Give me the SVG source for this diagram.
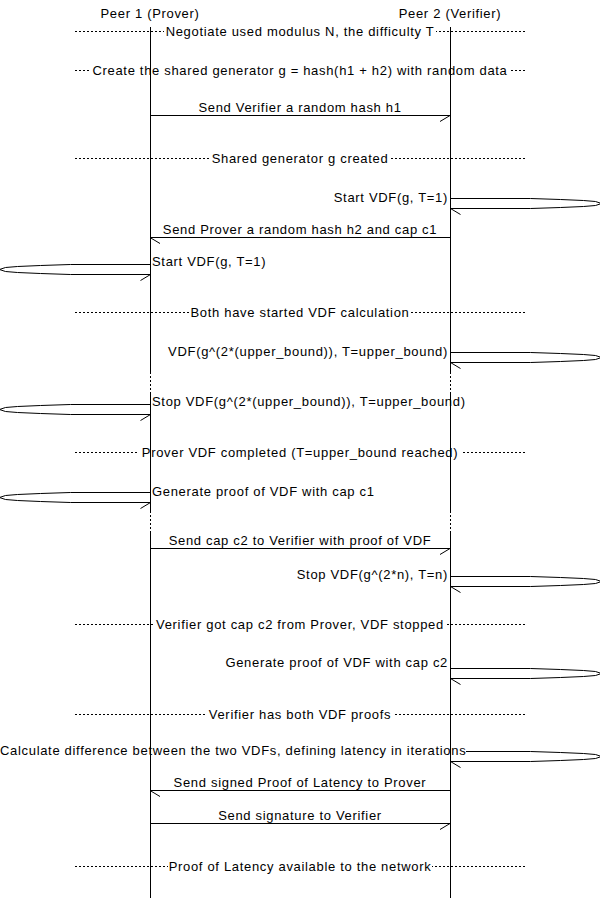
<svg xmlns="http://www.w3.org/2000/svg" width="600" height="898" viewBox="0 0 600 898">
<style>
text{font-family:"Liberation Sans",Arial,sans-serif;font-size:13px;letter-spacing:0.68px;fill:#000}
.c{text-anchor:middle}
.e{text-anchor:end}
.ln{stroke:#000;stroke-width:1;fill:none}
.dot{stroke:#000;stroke-width:1;stroke-dasharray:2 2;fill:none}
.bg{fill:#fff}
</style>
<defs>
  <path id="selfR" class="ln" d="M0,0H80L110,1L133,2L145,3L151,5L145,7L133,8L110,9L80,10H0M0,10L10,16"/>
</defs>
<rect width="600" height="898" fill="#fff"/>
<g id="connectors">
  <!-- dividers -->
  <line class="dot" x1="75" y1="31.5" x2="525" y2="31.5"/>
  <line class="dot" x1="75" y1="70.5" x2="525" y2="70.5"/>
  <line class="dot" x1="75" y1="158.5" x2="525" y2="158.5"/>
  <line class="dot" x1="75" y1="312.5" x2="525" y2="312.5"/>
  <line class="dot" x1="75" y1="452.5" x2="525" y2="452.5"/>
  <line class="dot" x1="75" y1="624.5" x2="525" y2="624.5"/>
  <line class="dot" x1="75" y1="714.5" x2="525" y2="714.5"/>
  <line class="dot" x1="75" y1="866.5" x2="525" y2="866.5"/>
  <!-- messages -->
  <path class="ln" d="M150,115.5H450.5M450,115.5L440,121.5"/>
  <path class="ln" d="M450,237.5H150M150,237.5L160,243.5"/>
  <path class="ln" d="M150,548.5H450.5M450,548.5L440,554.5"/>
  <path class="ln" d="M450,790.5H150M150,790.5L160,796.5"/>
  <path class="ln" d="M150,823.5H450.5M450,823.5L440,829.5"/>
  <!-- self arrows -->
  <use href="#selfR" transform="translate(450.5,198.5)"/>
  <use href="#selfR" transform="translate(150.5,264.5) scale(-1,1)"/>
  <use href="#selfR" transform="translate(450.5,352.5)"/>
  <use href="#selfR" transform="translate(150.5,404.5) scale(-1,1)"/>
  <use href="#selfR" transform="translate(150.5,492.5) scale(-1,1)"/>
  <use href="#selfR" transform="translate(450.5,576.5)"/>
  <use href="#selfR" transform="translate(450.5,668.5)"/>
  <use href="#selfR" transform="translate(450.5,751.5)"/>
</g>
<g id="labels">
  <rect class="bg" x="164" y="24" width="272" height="15"/>
  <rect class="bg" x="91" y="63" width="418" height="15"/>
  <rect class="bg" x="211" y="151" width="178" height="15"/>
  <rect class="bg" x="189" y="305" width="222" height="15"/>
  <rect class="bg" x="139" y="445" width="322" height="15"/>
  <rect class="bg" x="155" y="617" width="292" height="15"/>
  <rect class="bg" x="207" y="707" width="186" height="15"/>
  <rect class="bg" x="168" y="859" width="264" height="15"/>
  <rect class="bg" x="0" y="743" width="466" height="15"/>
</g>
<g id="dividers">
  <text class="c" x="300" y="36">Negotiate used modulus N, the difficulty T</text>
  <text class="c" x="300" y="75">Create the shared generator g = hash(h1 + h2) with random data</text>
  <text class="c" x="300" y="163">Shared generator g created</text>
  <text class="c" x="300" y="317">Both have started VDF calculation</text>
  <text class="c" x="300" y="457">Prover VDF completed (T=upper_bound reached)</text>
  <text class="c" x="300" y="629">Verifier got cap c2 from Prover, VDF stopped</text>
  <text class="c" x="300" y="719">Verifier has both VDF proofs</text>
  <text class="c" x="300" y="871">Proof of Latency available to the network</text>
</g>
<g id="messages">
  <text class="c" x="300" y="112">Send Verifier a random hash h1</text>
  <text class="c" x="300" y="234">Send Prover a random hash h2 and cap c1</text>
  <text class="c" x="300" y="545">Send cap c2 to Verifier with proof of VDF</text>
  <text class="c" x="300" y="787">Send signed Proof of Latency to Prover</text>
  <text class="c" x="300" y="820">Send signature to Verifier</text>
</g>
<g id="self-messages">
  <text class="e" x="448" y="202">Start VDF(g, T=1)</text>
  <text x="152" y="266">Start VDF(g, T=1)</text>
  <text class="e" x="448" y="356">VDF(g^(2*(upper_bound)), T=upper_bound)</text>
  <text x="152" y="406">Stop VDF(g^(2*(upper_bound)), T=upper_bound)</text>
  <text x="152" y="496">Generate proof of VDF with cap c1</text>
  <text class="e" x="448" y="579">Stop VDF(g^(2*n), T=n)</text>
  <text class="e" x="448" y="667">Generate proof of VDF with cap c2</text>
  <text x="0" y="755">Calculate difference between the two VDFs, defining latency in iterations</text>
</g>
<g id="prover">
  <text class="c" x="150" y="18">Peer 1 (Prover)</text>
  <path class="ln" d="M150.5,27V372M150.5,392V511M150.5,531V898"/>
  <path class="dot" d="M150.5,372V392M150.5,511V531"/>
</g>
<g id="verifier">
  <text class="c" x="450" y="18">Peer 2 (Verifier)</text>
  <path class="ln" d="M450.5,27V372M450.5,392V511M450.5,531V898"/>
  <path class="dot" d="M450.5,372V392M450.5,511V531"/>
</g>
</svg>
